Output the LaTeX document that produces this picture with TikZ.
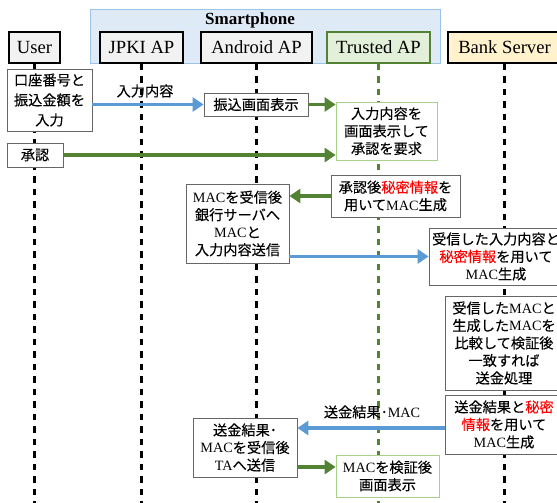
\documentclass[tikz,border=0pt]{standalone}
\usepackage{fontspec}
\setmainfont[FakeBold=0.2]{Noto Sans CJK JP}
\newfontfamily\tmfont{Liberation Serif}
\usetikzlibrary{arrows.meta,calc}
\definecolor{arrblue}{HTML}{5B9BD5}
\definecolor{arrgreen}{HTML}{548235}
\definecolor{spfill}{HTML}{DEEBF7}
\definecolor{spborder}{HTML}{9DC3E6}
\definecolor{hdrgray}{HTML}{F2F2F2}
\definecolor{tahdr}{HTML}{E2F0D9}
\definecolor{bankhdr}{HTML}{FFF2CC}
\definecolor{tagreen}{HTML}{A9D18E}
\definecolor{procgray}{HTML}{666666}
\newcommand\MACx{{\tmfont MAC}}
\newcommand\rdx[1]{\textcolor{red}{#1}}
\begin{document}
\begin{tikzpicture}[x=1pt,y=-1pt,
  hdr/.style={draw=black, line width=1.6pt, fill=hdrgray, inner sep=0pt, minimum height=31pt,
    font=\tmfont\fontsize{18.6}{20}\selectfont},
  proc/.style={draw=procgray, line width=0.8pt, fill=white, align=center, inner sep=0pt,
    font=\fontsize{14.2}{17.5}\selectfont},
  tproc/.style={proc, draw=tagreen},
  life/.style={line width=2.2pt, dash pattern=on 6.5pt off 6pt},
  barrow/.style={line width=3.5pt, draw=arrblue, -{Triangle[length=11pt,width=14pt]}},
  garrow/.style={line width=3.5pt, draw=arrgreen, -{Triangle[length=11pt,width=14pt]}},
  lbl/.style={inner sep=0pt, font=\fontsize{14.2}{17.5}\selectfont}]
\useasboundingbox (0,0) rectangle (557,503);
\clip (0,0) rectangle (557,503);
\coordinate (bot) at (0,505);
% smartphone group
\node[draw=spborder, line width=0.8pt, fill=spfill, minimum width=350pt, minimum height=54pt, inner sep=0pt] (sp) at (265,36) {};
\node[inner sep=0pt, font=\tmfont\bfseries\fontsize{17}{19}\selectfont] (spl) at (250,20) {Smartphone};
% headers
\node[hdr, minimum width=51pt] (hU) at (34.5,47.5) {User};
\node[hdr, minimum width=83pt] (hJ) at (141.5,47.5) {JPKI AP};
\node[hdr, minimum width=111pt] (hA) at (256.5,47.5) {Android AP};
\node[hdr, draw=arrgreen, fill=tahdr, minimum width=103pt] (hT) at (378.5,47.5) {Trusted AP};
\node[hdr, fill=bankhdr, minimum width=113pt] (hB) at (504.5,47.5) {Bank Server};
% lifelines
\draw[life] (hU.south) -- (hU.south |- bot);
\draw[life] (hJ.south) -- (hJ.south |- bot);
\draw[life] (hA.south) -- (hA.south |- bot);
\draw[life, draw=arrgreen] (hT.south) -- (hT.south |- bot);
\draw[life] (hB.south) -- (hB.south |- bot);
% boxes
\node[proc, minimum width=85pt, minimum height=62pt, font=\fontsize{14.2}{20}\selectfont] (b1) at (49.5,100) {口座番号と\\振込金額を\\入力};
\node[proc, minimum width=104pt, minimum height=23pt] (b2) at (256,104.5) {振込画面表示};
\node[tproc, minimum width=101pt, minimum height=58pt] (b3) at (386.5,131) {入力内容を\\画面表示して\\承認を要求};
\node[proc, minimum width=56pt, minimum height=24pt] (b4) at (35,155) {承認};
\node[proc, minimum width=129pt, minimum height=42pt] (b5) at (395.5,196) {承認後\rdx{秘密情報}を\\用いて\MACx 生成};
\node[proc, minimum width=103pt, minimum height=79pt] (b6) at (237.5,223.5) {\MACx を受信後\\銀行サーバへ\\\MACx と\\入力内容送信};
\node[proc, minimum width=134pt, minimum height=57pt] (b7) at (496,256.5) {受信した入力内容と\\\rdx{秘密情報}を用いて\\\MACx 生成};
\node[proc, minimum width=118pt, minimum height=94pt] (b8) at (504,343) {受信した\MACx と\\生成した\MACx を\\比較して検証後\\一致すれば\\送金処理};
\node[proc, minimum width=118pt, minimum height=59pt] (b9) at (504,424.5) {送金結果と\rdx{秘密}\\\rdx{情報}を用いて\\\MACx 生成};
\node[proc, minimum width=104pt, minimum height=59pt] (b10) at (245,447.5) {送金結果･\\\MACx を受信後\\{\tmfont TA}へ送信};
\node[tproc, minimum width=103pt, minimum height=42pt] (b11) at (387.5,476) {\MACx を検証後\\画面表示};
% labels
\node[lbl] (l1) at (145,91) {入力内容};
\node[lbl] (l2) at (372,412) {送金結果･\MACx};
% arrows
\draw[barrow] (b1.east |- b2.west) -- (b2.west);
\draw[garrow] (b2.east) -- (b3.west |- b2.east);
\draw[garrow] (b4.east) -- (b3.west |- b4.east);
\draw[garrow] (b5.west) -- (b6.east |- b5.west);
\draw[barrow] (b6.east |- b7.west) -- (b7.west);
\draw[barrow] ([yshift=-3.5pt]b9.west) -- ([yshift=-3.5pt]b9.west -| b10.east);
\draw[garrow] ([yshift=-19.5pt]b10.east) -- ([yshift=-19.5pt]b10.east -| b11.west);
\end{tikzpicture}
\end{document}
